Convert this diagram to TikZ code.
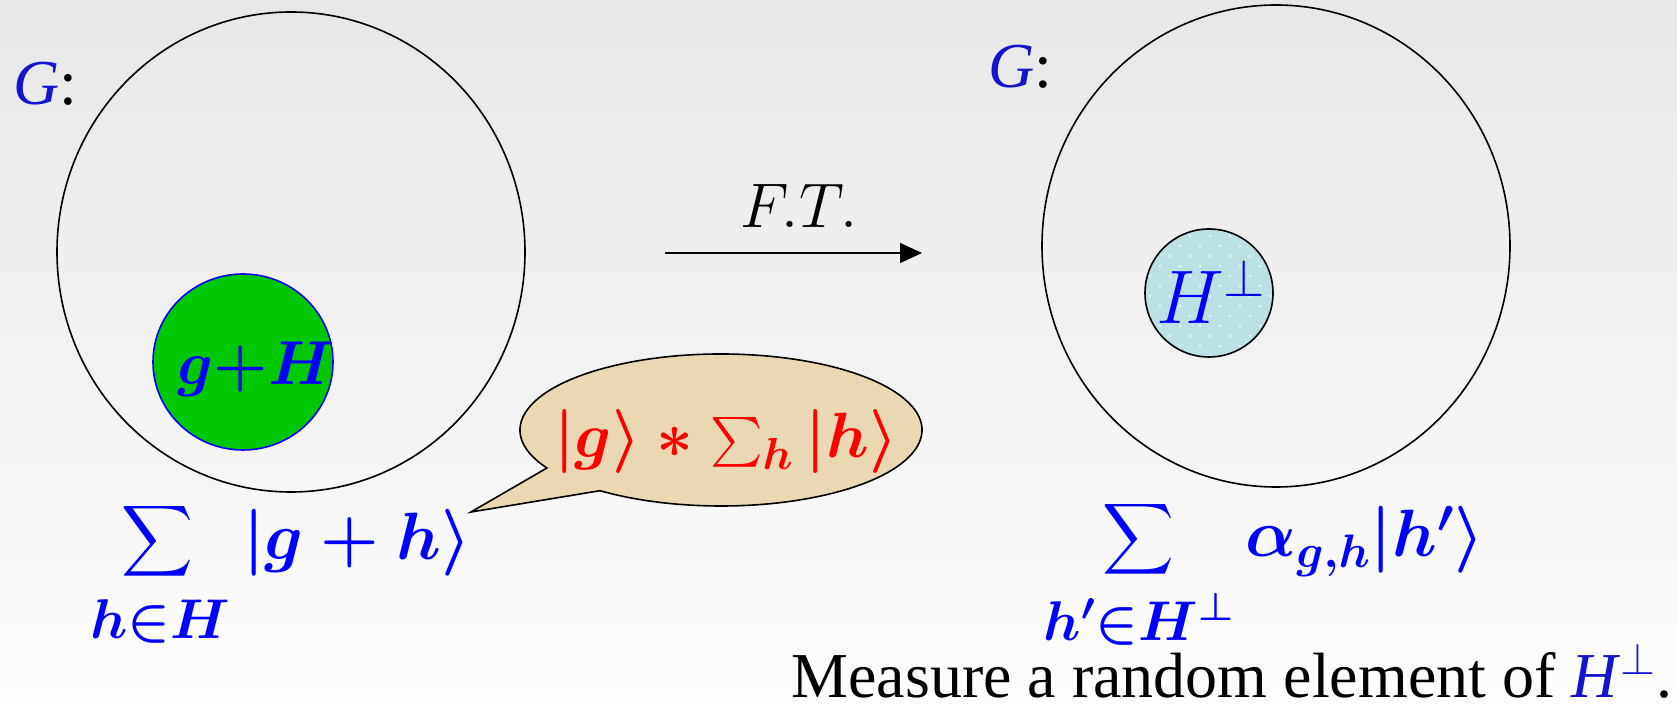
\RequirePackage{fix-cm}
\documentclass[tikz,border=0pt]{standalone}
\usepackage{amsmath}
\usepackage{fontspec}
\setmainfont{Liberation Serif}
\usetikzlibrary{arrows.meta}
\definecolor{gblue}{RGB}{20,20,205}
\definecolor{cosetgreen}{RGB}{0,200,0}
\definecolor{perpfill}{RGB}{189,224,228}
\definecolor{parchment}{RGB}{234,216,178}
\begin{document}
\begin{tikzpicture}[x=0.5pt,y=-0.5pt,
        ring/.style={line width=0.8pt,black},
        eqn/.style={inner sep=0pt,text=blue,font=\fontsize{33.5}{38}\selectfont\boldmath},
        subeqn/.style={inner sep=0pt,text=blue,font=\fontsize{28}{32}\selectfont\boldmath},
        bigsum/.style={inner sep=0pt,text=blue,font=\fontsize{31}{36}\selectfont}]
        \useasboundingbox (0,0) rectangle (1677,704);
        \shade [top color={rgb,255:red,231;green,231;blue,231},bottom color={rgb,255:red,253;green,253;blue,253}] (0,0) rectangle (1677,704);
        % the two groups
        \draw [ring] (291,252) ellipse[x radius=234,y radius=240];
        \draw [ring] (1276,246) ellipse[x radius=234,y radius=241];
        \node [anchor=base west,inner sep=0pt,font=\fontsize{32}{36}\selectfont] (Gl) at (13,105) {\textcolor{gblue}{\textit{G}}:};
        \node [anchor=base west,inner sep=0pt,font=\fontsize{32}{36}\selectfont] (Gr) at (988,88) {\textcolor{gblue}{\textit{G}}:};
        % coset
        \draw [line width=0.8pt,draw=blue,fill=cosetgreen] (243,362) ellipse[x radius=90,y radius=88];
        \node [anchor=base,inner sep=0pt,text=blue,font=\fontsize{31}{36}\selectfont\boldmath] (coset) at (256,385) {$g{+}H$};
        % H perp
        \fill [perpfill] (1209,293) circle[radius=64];
        \begin{scope}
            \clip (1209,293) circle[radius=63];
            \foreach \k in {0,...,13} {
                \foreach \i in {0,...,7} {
                    \fill [white,opacity=0.75] ({1140+20*\i+10*mod(\k,2)},{226+10*\k}) circle[radius=1.3];
                }
            }
        \end{scope}
        \draw [ring] (1209,293) circle[radius=64];
        \node [anchor=base west,inner sep=0pt,text=blue,font=\fontsize{38}{42}\selectfont] (perp) at (1156,324) {$H^{\perp}$};
        % Fourier transform
        \coordinate (ftA) at (665,253);
        \coordinate (ftB) at (922,253);
        \draw [line width=0.75pt,-{Triangle[length=11pt,width=10pt]}] (ftA) -- (ftB);
        \node [anchor=base,inner sep=0pt,font=\fontsize{31.5}{36}\selectfont] (ft) at (799,228) {$F.T.$};
        % speech bubble
        \draw [line width=0.8pt,fill=parchment] (721,430) ++(150:201 and 76)
            arc[start angle=150,end angle=487,x radius=201,y radius=76] -- (471,512) -- cycle;
        \node [anchor=base,inner sep=0pt,text=red,font=\fontsize{32}{36}\selectfont\boldmath] (bubble) at (726,458) {$|g\rangle * \textstyle\sum_h |h\rangle$};
        % states
        \node [bigsum] (lsig) at (157,541) {$\displaystyle\sum$};
        \node [subeqn,anchor=base] (lsub) at (160,639) {$h{\in}H$};
        \node [eqn,anchor=base west] (lterm) at (243,560) {$|g+h\rangle$};
        \node [bigsum] (rsig) at (1138,539) {$\displaystyle\sum$};
        \node [subeqn,anchor=base] (rsub) at (1139,641) {$h'{\in}H^{\perp}$};
        \node [eqn,anchor=base west] (rterm) at (1245,557) {$\alpha_{g,h}|h'\rangle$};
        \node [anchor=base west,inner sep=0pt,font=\fontsize{32}{36}\selectfont] (measure) at (791,698) {Measure a random element of {\color{gblue}\textit{H}\textsuperscript{$\perp$}}.};
\end{tikzpicture}
\end{document}
